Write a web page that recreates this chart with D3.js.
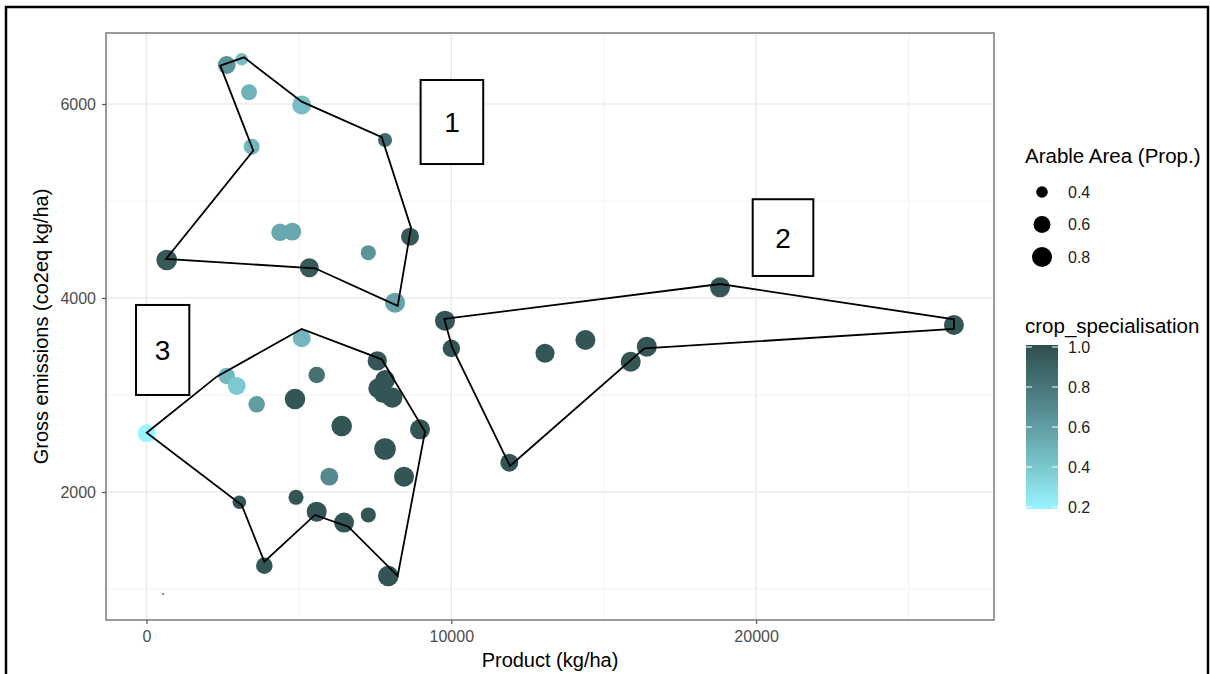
<!DOCTYPE html>
<html><head><meta charset="utf-8">
<script src="https://cdn.jsdelivr.net/npm/d3@7"></script>
<style>
body{margin:0;background:#fff}
svg{display:block}
text{font-family:Arial,"Liberation Sans",sans-serif}
</style>
</head><body>
<svg id="chart" width="1210" height="674"></svg>
<script>
// ---------- data ----------
const product = [2631,3123,3363,5092,7825,3451,4380,4783,8645,7277,663,5341,8153,
  5092,2631,2959,5584,3615,4872,7572,7825,7605,7769,8064,7,6404,8973,7825,5997,8448,3045,4905,5584,6480,7277,3865,7933,
  9793,10003,13074,14400,16414,15886,18816,26490,11903];
const emissions = [6402,6461,6121,5990,5629,5560,4677,4684,4632,4467,4392,4312,3952,
  3585,3196,3093,3206,2904,2959,3351,3155,3069,3018,2972,2605,2680,2646,2443,2158,2158,1894,1945,1797,1684,1763,1240,1134,
  3766,3481,3430,3567,3498,3343,4110,3722,2302];
const arableArea = [0.66,0.42,0.55,0.73,0.47,0.55,0.63,0.66,0.66,0.51,0.85,0.73,0.80,
  0.66,0.58,0.66,0.58,0.58,0.85,0.75,0.78,0.80,0.78,0.82,0.66,0.85,0.80,0.93,0.66,0.80,0.45,0.51,0.80,0.80,0.51,0.58,0.85,
  0.80,0.63,0.73,0.80,0.80,0.80,0.80,0.80,0.66];
const cropSpec = [0.65,0.45,0.50,0.45,0.85,0.48,0.55,0.55,0.95,0.65,0.95,0.95,0.58,
  0.48,0.47,0.40,0.82,0.60,0.97,0.97,0.97,0.97,0.97,0.97,0.20,0.97,0.97,0.97,0.70,0.97,0.97,0.97,0.97,0.97,0.97,0.97,0.97,
  0.97,0.97,0.97,0.97,0.97,0.97,0.97,0.97,0.97];
// stray tiny mark near the origin
const tinyX = [541], tinyY = [948];

const hull1 = [[2421,6395],[3199,6481],[5092,6024],[7717,5657],[8678,4725],[8241,3918],[5528,4306],[640,4402],[3504,5519]];
const hull2 = [[9770,3784],[18816,4144],[26490,3780],[26490,3680],[16332,3481],[11926,2268],[10026,3492]];
const hull3 = [[7,2611],[2303,3189],[5092,3680],[7717,3368],[9137,2622],[8241,1134],[6621,1642],[5528,1763],[3865,1281],[3123,1866]];

const boxLabels = ["1","2","3"];
const boxX0 = [8993,19888,-344], boxX1 = [11047,21877,1404];
const boxY0 = [5381,4227,3000], boxY1 = [6247,5018,3928];

const xTicks = [0,10000,20000], xMinor = [5000,15000,25000];
const yTicks = [2000,4000,6000], yMinor = [1000,3000,5000];
const sizeLegend = [0.4,0.6,0.8];
const colorLegend = [0.2,0.4,0.6,0.8,1.0];

// ---------- layout ----------
const P = {l:106, r:994, t:33, b:620};
const svg = d3.select("#chart");
svg.append("rect").attr("width",1210).attr("height",674).attr("fill","#fff");

const x = d3.scaleLinear().domain([-1329,27805]).range([P.l,P.r]);
const y = d3.scaleLinear().domain([680,6732]).range([P.b,P.t]);
const sizeNorm = d3.scaleLinear().domain([0.37,0.93]).range([0,1]).clamp(true);
const rScale = d3.scaleSqrt().domain([0,1]).range([4.3,10.8]);
const rad = v => rScale(sizeNorm(v));
const col = d3.scaleLinear().domain([0.2,1.0]).range(["#98F5FF","#2F4F4F"]).interpolate(d3.interpolateLab);

// grid
const g = svg.append("g");
g.selectAll(".xm").data(xMinor).join("line").attr("x1",d=>x(d)).attr("x2",d=>x(d)).attr("y1",P.t).attr("y2",P.b)
  .attr("stroke","#f2f2f2").attr("stroke-width",1);
g.selectAll(".ym").data(yMinor).join("line").attr("y1",d=>y(d)).attr("y2",d=>y(d)).attr("x1",P.l).attr("x2",P.r)
  .attr("stroke","#f2f2f2").attr("stroke-width",1);
g.selectAll(".xM").data(xTicks).join("line").attr("x1",d=>x(d)).attr("x2",d=>x(d)).attr("y1",P.t).attr("y2",P.b)
  .attr("stroke","#ebebeb").attr("stroke-width",1.5);
g.selectAll(".yM").data(yTicks).join("line").attr("y1",d=>y(d)).attr("y2",d=>y(d)).attr("x1",P.l).attr("x2",P.r)
  .attr("stroke","#ebebeb").attr("stroke-width",1.5);

// points
const idx = d3.range(product.length);
svg.append("g").selectAll("circle").data(idx).join("circle")
  .attr("cx",i=>x(product[i])).attr("cy",i=>y(emissions[i]))
  .attr("r",i=>rad(arableArea[i])).attr("fill",i=>col(cropSpec[i]));
svg.append("g").selectAll("circle").data(tinyX).join("circle")
  .attr("cx",(d,i)=>x(tinyX[i])).attr("cy",(d,i)=>y(tinyY[i])).attr("r",0.9).attr("fill","#555");

// hulls
const line = d3.line().x(d=>x(d[0])).y(d=>y(d[1])).curve(d3.curveLinearClosed);
svg.append("g").selectAll("path").data([hull1,hull2,hull3]).join("path")
  .attr("d",line).attr("fill","none").attr("stroke","#000").attr("stroke-width",1.8).attr("stroke-linejoin","miter");

// boxes
const bg = svg.append("g");
boxLabels.forEach((lab,i)=>{
  bg.append("rect").attr("x",x(boxX0[i])).attr("y",y(boxY1[i]))
    .attr("width",x(boxX1[i])-x(boxX0[i])).attr("height",y(boxY0[i])-y(boxY1[i]))
    .attr("fill","#fff").attr("stroke","#000").attr("stroke-width",2);
  bg.append("text").attr("x",(x(boxX0[i])+x(boxX1[i]))/2).attr("y",(y(boxY0[i])+y(boxY1[i]))/2)
    .attr("dy","0.36em").attr("text-anchor","middle").attr("font-size",28).attr("fill","#000").text(lab);
});

// panel border
svg.append("rect").attr("x",P.l).attr("y",P.t).attr("width",P.r-P.l).attr("height",P.b-P.t)
  .attr("fill","none").attr("stroke","#7a7a7a").attr("stroke-width",1.5);

// axes
const xa = svg.append("g").attr("transform",`translate(0,${P.b})`)
  .call(d3.axisBottom(x).tickValues(xTicks).tickSize(4).tickPadding(7).tickFormat(d3.format("d")));
const ya = svg.append("g").attr("transform",`translate(${P.l},0)`)
  .call(d3.axisLeft(y).tickValues(yTicks).tickSize(4).tickPadding(6).tickFormat(d3.format("d")));
[xa,ya].forEach(a=>{
  a.select(".domain").remove();
  a.selectAll(".tick line").attr("stroke","#555").attr("stroke-width",1.2);
  a.selectAll(".tick text").attr("font-size",16).attr("fill","#4d4d4d").attr("font-family","Arial, 'Liberation Sans', sans-serif");
});

// axis titles
svg.append("text").attr("x",(P.l+P.r)/2).attr("y",667).attr("text-anchor","middle")
  .attr("font-size",20).attr("fill","#000").text("Product (kg/ha)");
svg.append("text").attr("transform",`translate(48,${(P.t+P.b)/2}) rotate(-90)`).attr("text-anchor","middle")
  .attr("font-size",20).attr("fill","#000").text("Gross emissions (co2eq kg/ha)");

// size legend
const lg = svg.append("g");
lg.append("text").attr("x",1025).attr("y",163).attr("font-size",20.5).attr("fill","#000").text("Arable Area (Prop.)");
sizeLegend.forEach((v,i)=>{
  const cy = 192 + i*32.5;
  lg.append("circle").attr("cx",1042).attr("cy",cy).attr("r",rad(v)).attr("fill","#000");
  lg.append("text").attr("x",1068).attr("y",cy).attr("dy","0.36em").attr("font-size",16).attr("fill","#222").text(d3.format(".1f")(v));
});

// colour legend
lg.append("text").attr("x",1025).attr("y",333).attr("font-size",20.5).attr("fill","#000").text("crop_specialisation");
const cb = d3.scaleLinear().domain([0.2,1.0]).range([507,347]);
const grad = svg.append("defs").append("linearGradient").attr("id","cg").attr("x1",0).attr("x2",0).attr("y1",1).attr("y2",0);
d3.range(0,1.0001,0.05).forEach(t=>{
  grad.append("stop").attr("offset",t).attr("stop-color",col(0.2+0.8*t));
});
lg.append("rect").attr("x",1026).attr("y",cb(1.0)-2).attr("width",32).attr("height",cb(0.2)-cb(1.0)+4).attr("fill","url(#cg)");
colorLegend.forEach(v=>{
  lg.append("line").attr("x1",1026).attr("x2",1032).attr("y1",cb(v)).attr("y2",cb(v)).attr("stroke","#fff").attr("stroke-width",1);
  lg.append("line").attr("x1",1052).attr("x2",1058).attr("y1",cb(v)).attr("y2",cb(v)).attr("stroke","#fff").attr("stroke-width",1);
  lg.append("text").attr("x",1068).attr("y",cb(v)).attr("dy","0.36em").attr("font-size",16).attr("fill","#222").text(d3.format(".1f")(v));
});

// outer frame
svg.append("path").attr("d","M6,674 V7 H1208 V674").attr("fill","none").attr("stroke","#000").attr("stroke-width",2.5);
</script>
</body></html>
